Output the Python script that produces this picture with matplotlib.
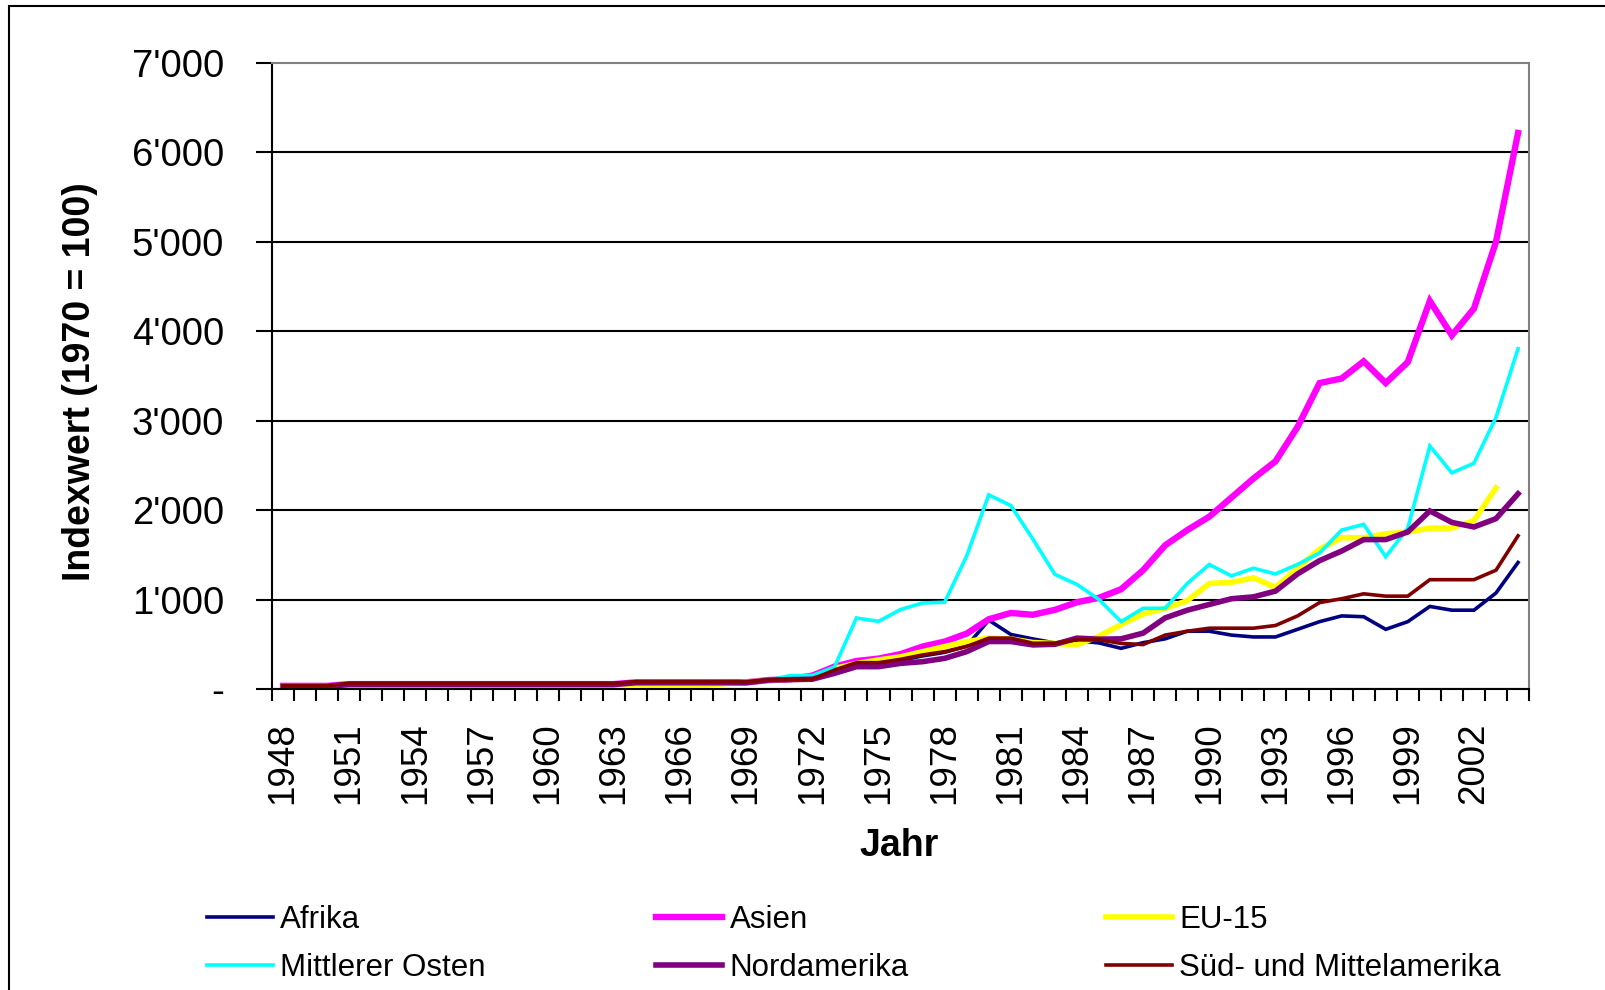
import matplotlib

matplotlib.use("Agg")
import matplotlib.pyplot as plt
import numpy as np
from matplotlib.patches import Rectangle
from matplotlib.ticker import FixedLocator, FuncFormatter

plt.rcParams["font.family"] = ["Liberation Sans", "DejaVu Sans"]

YEARS = list(range(1948, 2005))

# index values (1970 = 100), one entry per year 1948..2004
AFRIKA = [35, 35, 35, 60, 60, 60, 60, 60, 60, 60, 60, 60, 60, 60, 60, 60, 80, 80, 80, 80, 80, 80,
          100, 110, 115, 200, 290, 290, 320, 370, 410, 480, 770, 610, 560, 515, 540, 515,
          455, 518, 561, 646, 646, 603, 582, 582, 667, 753, 817, 808, 667, 753, 923, 881, 881, 1073, 1414]
ASIEN = [35, 35, 35, 55, 55, 55, 55, 55, 55, 55, 55, 55, 55, 55, 55, 55, 75, 75, 75, 75, 75, 75,
         100, 110, 150, 250, 313, 340, 390, 475, 530, 620, 780, 850, 830, 885, 970, 1020,
         1115, 1328, 1606, 1776, 1926, 2139, 2352, 2544, 2928, 3419, 3470, 3662, 3419, 3653, 4336, 3952, 4251, 4997, 6213]
EU15 = [30, 30, 30, 45, 45, 45, 45, 45, 45, 45, 45, 45, 45, 45, 45, 45, 50, 40, 40, 40, 60, 75,
        100, 110, 130, 230, 285, 325, 360, 418, 475, 530, 570, 560, 520, 510, 495, 590,
        720, 838, 902, 987, 1179, 1192, 1243, 1137, 1350, 1563, 1691, 1691, 1734, 1755, 1798, 1798, 1883, 2246, np.nan]
MITTLERER_OSTEN = [35, 35, 35, 55, 55, 55, 55, 55, 55, 55, 55, 55, 55, 55, 55, 55, 75, 75, 75, 75, 75, 75,
                   100, 150, 152, 245, 794, 756, 888, 962, 970, 1488, 2170, 2050, 1675, 1281, 1169, 1000,
                   753, 902, 902, 1179, 1392, 1264, 1350, 1286, 1392, 1520, 1776, 1840, 1478, 1798, 2715, 2416, 2523, 3035, 3803]
NORDAMERIKA = [30, 30, 30, 50, 50, 50, 50, 50, 50, 50, 50, 50, 50, 50, 50, 50, 70, 70, 70, 70, 70, 70,
               100, 105, 110, 175, 250, 250, 287, 306, 343, 418, 531, 531, 493, 500, 569, 557,
               561, 625, 795, 881, 945, 1009, 1030, 1094, 1286, 1435, 1542, 1670, 1670, 1755, 1990, 1862, 1811, 1904, 2182]
SUED_MITTELAMERIKA = [37, 37, 37, 65, 65, 65, 65, 65, 65, 65, 65, 65, 65, 65, 65, 65, 82, 82, 82, 82, 82, 82,
                      100, 110, 110, 212, 295, 295, 332, 381, 418, 475, 569, 569, 512, 512, 550, 550,
                      510, 497, 603, 646, 680, 680, 680, 710, 817, 966, 1009, 1064, 1038, 1038, 1222, 1222, 1222, 1328, 1712]

SERIES = [
    ("Afrika", AFRIKA, "#000080", 2.6),
    ("Asien", ASIEN, "#ff00ff", 4.6),
    ("EU-15", EU15, "#ffff00", 4.0),
    ("Mittlerer Osten", MITTLERER_OSTEN, "#00ffff", 2.6),
    ("Nordamerika", NORDAMERIKA, "#800080", 4.0),
    ("Süd- und Mittelamerika", SUED_MITTELAMERIKA, "#800000", 2.6),
]
LABEL_YEARS = list(range(1948, 2003, 3))


def _fmt_thousands(v, _pos):
    if v == 0:
        return "-"
    return f"{int(v):,}".replace(",", "'")


fig = plt.figure(figsize=(16.06, 9.9), dpi=100)
ax = fig.add_axes([0.1694, 0.304, 0.7827, 0.6328])

handles = {}
for name, values, color, lw in SERIES:
    (line,) = ax.plot(YEARS, values, color=color, linewidth=lw, label=name,
                      solid_joinstyle="miter", clip_on=False)
    handles[name] = line

ax.set_xlim(YEARS[0] - 0.5, YEARS[-1] + 0.5)
ax.set_ylim(0, 7000)
ax.set_yticks(range(0, 7001, 1000))
ax.yaxis.set_major_formatter(FuncFormatter(_fmt_thousands))
ax.tick_params(axis="y", direction="out", length=11.5, width=1.5, pad=23,
               labelsize=27.5, color="black")

ax.set_xticks(LABEL_YEARS)
ax.set_xticklabels([str(y) for y in LABEL_YEARS], rotation=90)
ax.xaxis.set_minor_locator(FixedLocator(np.arange(YEARS[0] - 0.5, YEARS[-1] + 1.0, 1.0)))
ax.tick_params(axis="x", which="major", length=0, pad=24, labelsize=26.5)
ax.tick_params(axis="x", which="minor", direction="out", length=8.6, width=1.5)

ax.grid(True, axis="y", color="black", linewidth=1.5)
ax.get_ygridlines()[-1].set_visible(False)
ax.set_axisbelow(True)
for side in ("left", "bottom"):
    ax.spines[side].set_linewidth(1.5)
    ax.spines[side].set_color("black")
for side in ("top", "right"):
    ax.spines[side].set_linewidth(1.5)
    ax.spines[side].set_color("#808080")

fig.text(80 / 1606, 0.615, "Indexwert (1970 = 100)", rotation=90, ha="center",
         va="center", fontsize=27, fontweight="bold")
fig.text(0.56, 1 - 846 / 990, "Jahr", ha="center", va="center", fontsize=27,
         fontweight="bold")

# legend laid out as three columns, filled row by row
columns = [("Afrika", "Mittlerer Osten"), ("Asien", "Nordamerika"),
           ("EU-15", "Süd- und Mittelamerika")]
col_x = [207 / 1606, 656 / 1606, 1106 / 1606]
for names, x in zip(columns, col_x):
    fig.legend([handles[n] for n in names], list(names), loc="center left",
               bbox_to_anchor=(x, 1 - 944 / 990), frameon=False, fontsize=22.5,
               handlelength=2.1, handletextpad=0.25, borderpad=0, borderaxespad=0,
               labelspacing=0.6)

fig.patches.append(Rectangle((9 / 1606, -0.1), 1.2, 1.1 - 6 / 990, fill=False,
                             edgecolor="black", linewidth=1.5,
                             transform=fig.transFigure, clip_on=False))

fig.savefig("out.png", dpi=100)
